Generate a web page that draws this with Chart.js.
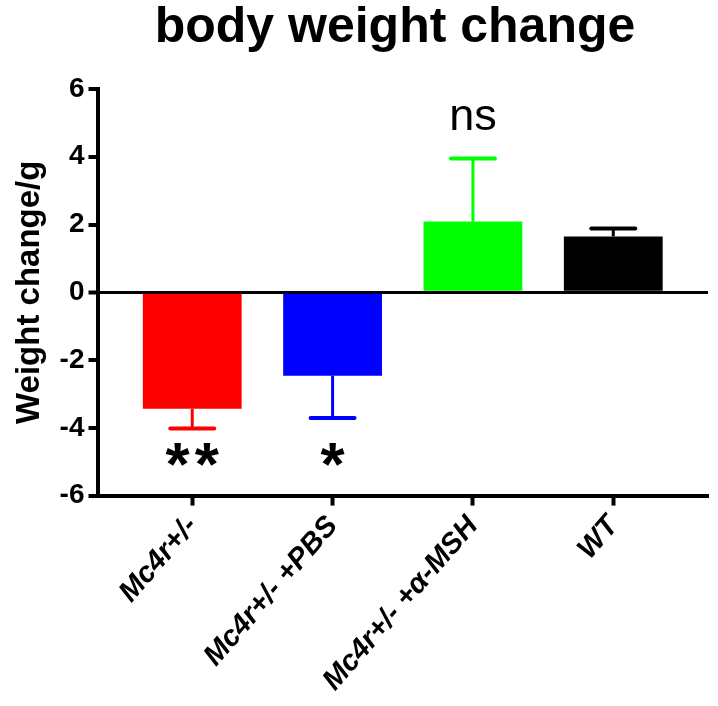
<!DOCTYPE html>
<html>
<head>
<meta charset="utf-8">
<script src="https://cdn.jsdelivr.net/npm/chart.js@4.4.1/dist/chart.umd.min.js"></script>
<style>
html,body{margin:0;padding:0;background:#fff;}
canvas{display:block;}
</style>
</head>
<body>
<canvas id="c" width="718" height="706"></canvas>
<script>
// ---- data ----
const categories = ['Mc4r+/-', 'Mc4r+/- +PBS', 'Mc4r+/- +\u03B1-MSH', 'WT'];
const meanChange = [-3.44, -2.46, 2.09, 1.65];
const errorSize = [0.58, 1.25, 1.86, 0.23];
const significance = ['**', '*', 'ns', ''];
const yTickValues = [-6, -4, -2, 0, 2, 4, 6];
const chartTitle = 'body weight change';
const yTitle = 'Weight change/g';

// ---- styles ----
const barColors = ['#ff0000', '#0000ff', '#00ff00', '#000000'];
const FONT = '"Liberation Sans", Arial, sans-serif';

const errorBarPlugin = {
  id: 'errorBars',
  afterDatasetsDraw(chart) {
    const ctx = chart.ctx;
    const xs = chart.scales.x, ys = chart.scales.y;
    ctx.save();
    meanChange.forEach((v, i) => {
      const x = xs.getPixelForValue(i);
      const dir = v >= 0 ? 1 : -1;
      const y0 = ys.getPixelForValue(v);
      const y1 = ys.getPixelForValue(v + dir * errorSize[i]);
      ctx.strokeStyle = barColors[i];
      ctx.lineWidth = 3;
      ctx.lineCap = 'butt';
      ctx.beginPath();
      ctx.moveTo(x, y0);
      ctx.lineTo(x, y1);
      ctx.stroke();
      ctx.lineWidth = 4;
      ctx.lineCap = 'round';
      ctx.beginPath();
      ctx.moveTo(x - 22, y1);
      ctx.lineTo(x + 22, y1);
      ctx.stroke();
    });
    ctx.restore();
  }
};

const annotatePlugin = {
  id: 'annotate',
  afterDraw(chart) {
    const ctx = chart.ctx;
    const xs = chart.scales.x, ys = chart.scales.y;
    ctx.save();
    ctx.fillStyle = '#000';
    // title
    ctx.font = 'bold 50px ' + FONT;
    ctx.textAlign = 'center';
    ctx.textBaseline = 'alphabetic';
    ctx.fillText(chartTitle, 395, 42);
    // significance marks
    significance.forEach((s, i) => {
      if (!s) return;
      const x = xs.getPixelForValue(i);
      if (s === 'ns') {
        ctx.font = '45px ' + FONT;
        ctx.letterSpacing = '0px';
        const m = ctx.measureText(s);
        const yc = ys.getPixelForValue(5.15);
        ctx.fillText(s, x, yc + (m.actualBoundingBoxAscent - m.actualBoundingBoxDescent) / 2);
      } else {
        ctx.font = 'bold 62px ' + FONT;
        ctx.letterSpacing = '5px';
        const m = ctx.measureText(s);
        const yc = ys.getPixelForValue(-4.8);
        ctx.fillText(s, x + 2.5, yc + (m.actualBoundingBoxAscent - m.actualBoundingBoxDescent) / 2);
      }
    });
    ctx.restore();
  }
};

new Chart(document.getElementById('c'), {
  type: 'bar',
  data: {
    datasets: [{
      data: meanChange.map((v, i) => ({ x: i, y: v })),
      backgroundColor: barColors,
      borderWidth: 0,
      barPercentage: 0.704,
      categoryPercentage: 1
    }]
  },
  options: {
    responsive: false,
    animation: false,
    devicePixelRatio: 1,
    layout: { padding: { left: 6, right: 10, top: 89, bottom: 4 } },
    plugins: { legend: { display: false }, tooltip: { enabled: false }, title: { display: false } },
    scales: {
      x: {
        type: 'linear',
        offset: false,
        min: -0.668,
        max: 3.675,
        afterBuildTicks: (scale) => { scale.ticks = categories.map((c, i) => ({ value: i })); },
        ticks: {
          autoSkip: false,
          minRotation: 49,
          maxRotation: 49,
          padding: 4,
          color: '#000',
          font: { family: FONT, size: 29, weight: 'bold', style: 'italic' },
          callback: (v) => categories[v]
        },
        grid: { offset: false, drawOnChartArea: false, drawTicks: true, tickLength: 10, tickWidth: 4, tickColor: '#000' },
        border: { display: true, color: '#000', width: 4 }
      },
      y: {
        min: -6,
        max: 6,
        afterBuildTicks: (scale) => { scale.ticks = yTickValues.map(v => ({ value: v })); },
        ticks: {
          padding: 4,
          color: '#000',
          font: { family: FONT, size: 28, weight: 'bold' }
        },
        grid: {
          drawOnChartArea: true,
          color: (c) => (c.tick && c.tick.value === 0) ? '#000' : 'rgba(0,0,0,0)',
          lineWidth: (c) => (c.tick && c.tick.value === 0) ? 3 : 0,
          drawTicks: true,
          tickLength: 10,
          tickWidth: 4,
          tickColor: '#000'
        },
        border: { display: true, color: '#000', width: 4 },
        title: {
          display: true,
          text: yTitle,
          color: '#000',
          padding: { top: 4, bottom: 6 },
          font: { family: FONT, size: 33, weight: 'bold' }
        }
      }
    }
  },
  plugins: [errorBarPlugin, annotatePlugin]
});
</script>
</body>
</html>
